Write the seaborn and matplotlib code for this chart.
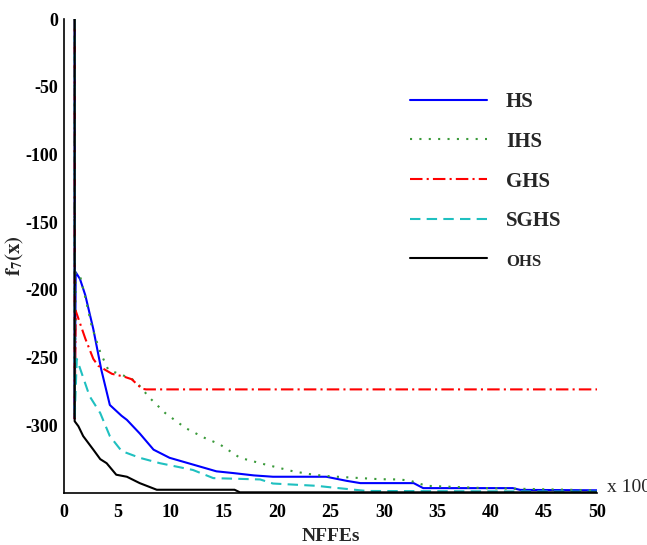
import pandas as pd
import seaborn as sns
import matplotlib.pyplot as plt

# Convergence curves of f7(x) against NFFEs (x 1000)
algorithms = ['HS', 'IHS', 'GHS', 'SGHS', 'OHS']

hs_x = [1, 1, 1.1, 1.5, 2.0, 2.75, 3.5, 4.3, 5.4, 5.9, 7.1, 8.4, 9.9, 12.1, 14.3, 15.9,
        17.8, 19.6, 22.1, 24.6, 26.5, 27.8, 32.8, 33.7, 42.1, 42.8, 50]
hs_y = [0, -295, -187, -192, -204, -229, -259, -285, -293, -296, -306, -318, -324, -329, -334, -335.3,
        -337, -338, -338, -338, -341, -342.7, -342.7, -346.4, -346.4, -347.7, -348]

ihs_x = [1, 1, 1.1, 1.5, 2.1, 2.6, 3.4, 4.15, 5.5, 6.4, 7.0, 7.9, 8.2, 9.5, 11.4, 13.1, 14.6, 16.5,
         17.8, 18.4, 21.5, 23.4, 25.2, 29.6, 31.5, 32.5, 34, 39.6, 50]
ihs_y = [0, -295, -187, -189.5, -209, -227, -246, -259, -263, -266, -270, -278.5, -281, -291, -302, -309, -314, -324,
         -326.7, -328, -334, -336.5, -337.8, -339.8, -340, -341, -344.7, -346.4, -348]

ghs_x = [1, 1, 1.1, 2.0, 2.75, 3.2, 4.5, 5.6, 6.35, 7.3, 7.7, 50]
ghs_y = [0, -295, -215.5, -236, -251, -256, -262, -264, -266, -273, -273.5, -273.5]

sghs_x = [1, 1, 1.2, 2.4, 3.4, 4.3, 5.4, 7.1, 9.0, 12.1, 14.0, 18.4, 19.6, 23.7, 25.0, 28.4, 50]
sghs_y = [0, -295, -251, -278.5, -291, -308, -319, -324, -328, -333, -339, -340, -343, -344.7, -345.8, -348.5, -349]

ohs_x = [1, 1, 1.35, 1.8, 2.75, 3.4, 4.0, 4.9, 5.9, 7.1, 8.7, 16, 16.5, 50]
ohs_y = [0, -297, -300.7, -308, -318, -325, -328, -336.5, -338, -342.7, -347.6, -347.6, -349.5, -349.5]

series = [(hs_x, hs_y), (ihs_x, ihs_y), (ghs_x, ghs_y), (sghs_x, sghs_y), (ohs_x, ohs_y)]
frames = []
for name, (xs, ys) in zip(algorithms, series):
    frames.append(pd.DataFrame({'NFFEs': xs, 'f7': ys, 'alg': name}))
df = pd.concat(frames, ignore_index=True)

sns.set_style('white')
plt.rcParams['font.family'] = ['Liberation Serif', 'DejaVu Serif']
plt.rcParams['mathtext.fontset'] = 'stix'
plt.rcParams['axes.unicode_minus'] = False

fig = plt.figure(figsize=(6.47, 5.45), dpi=100)
ax = fig.add_axes([64 / 647, 1 - 493 / 545, 533 / 647, 474 / 545])

palette = {'HS': '#0000ff', 'IHS': '#3a9a3a', 'GHS': '#ff0000', 'SGHS': '#1fc0c0', 'OHS': '#000000'}
dashes = {'HS': '', 'IHS': (1, 3.5), 'GHS': (6, 2, 1, 2), 'SGHS': (5, 3), 'OHS': ''}
sns.lineplot(data=df, x='NFFEs', y='f7', hue='alg', style='alg',
             hue_order=algorithms, style_order=algorithms,
             palette=palette, dashes=dashes, estimator=None, sort=False,
             linewidth=1.5, ax=ax)

# rebuild the legend without frame / title, placed at the right
old = ax.get_legend()
handles = old.legend_handles
labels = [t.get_text() for t in old.get_texts()]
old.remove()
leg = ax.legend(handles, labels, loc='upper left', bbox_to_anchor=(410 / 647, 1 - 92 / 545),
                bbox_transform=fig.transFigure, frameon=False,
                prop={'size': 15, 'weight': 'bold'},
                handlelength=3.7, handletextpad=0.9, labelspacing=0.95,
                borderpad=0, borderaxespad=0)
leg.get_texts()[4].set_fontsize(12)

ax.set_xlim(0, 50)
ax.set_ylim(-350, 0)
ax.set_xticks(range(0, 51, 5))
ax.set_yticks(range(-300, 1, 50))
ax.tick_params(direction='in', length=6, width=1, labelsize=13, colors='black')
ax.tick_params(axis='x', pad=8)
ax.tick_params(axis='y', pad=4)
for lab in ax.get_xticklabels() + ax.get_yticklabels():
    lab.set_fontweight('bold')

sns.despine(ax=ax)
for side in ['left', 'bottom']:
    ax.spines[side].set_color('black')
    ax.spines[side].set_linewidth(1.2)

ax.set_xlabel('NFFEs', fontsize=14, fontweight='bold')
ax.set_ylabel(r'$\mathbf{f}_{\mathbf{7}}\mathbf{(x)}$', fontsize=15)
ax.xaxis.set_label_coords(0.5, -0.074)
ax.yaxis.set_label_coords(-0.072, 0.5)
ax.text(1.019, 0.012, 'x 1000', transform=ax.transAxes, ha='left', va='center',
        fontsize=14, clip_on=False)

plt.savefig('out.png', dpi=100)
